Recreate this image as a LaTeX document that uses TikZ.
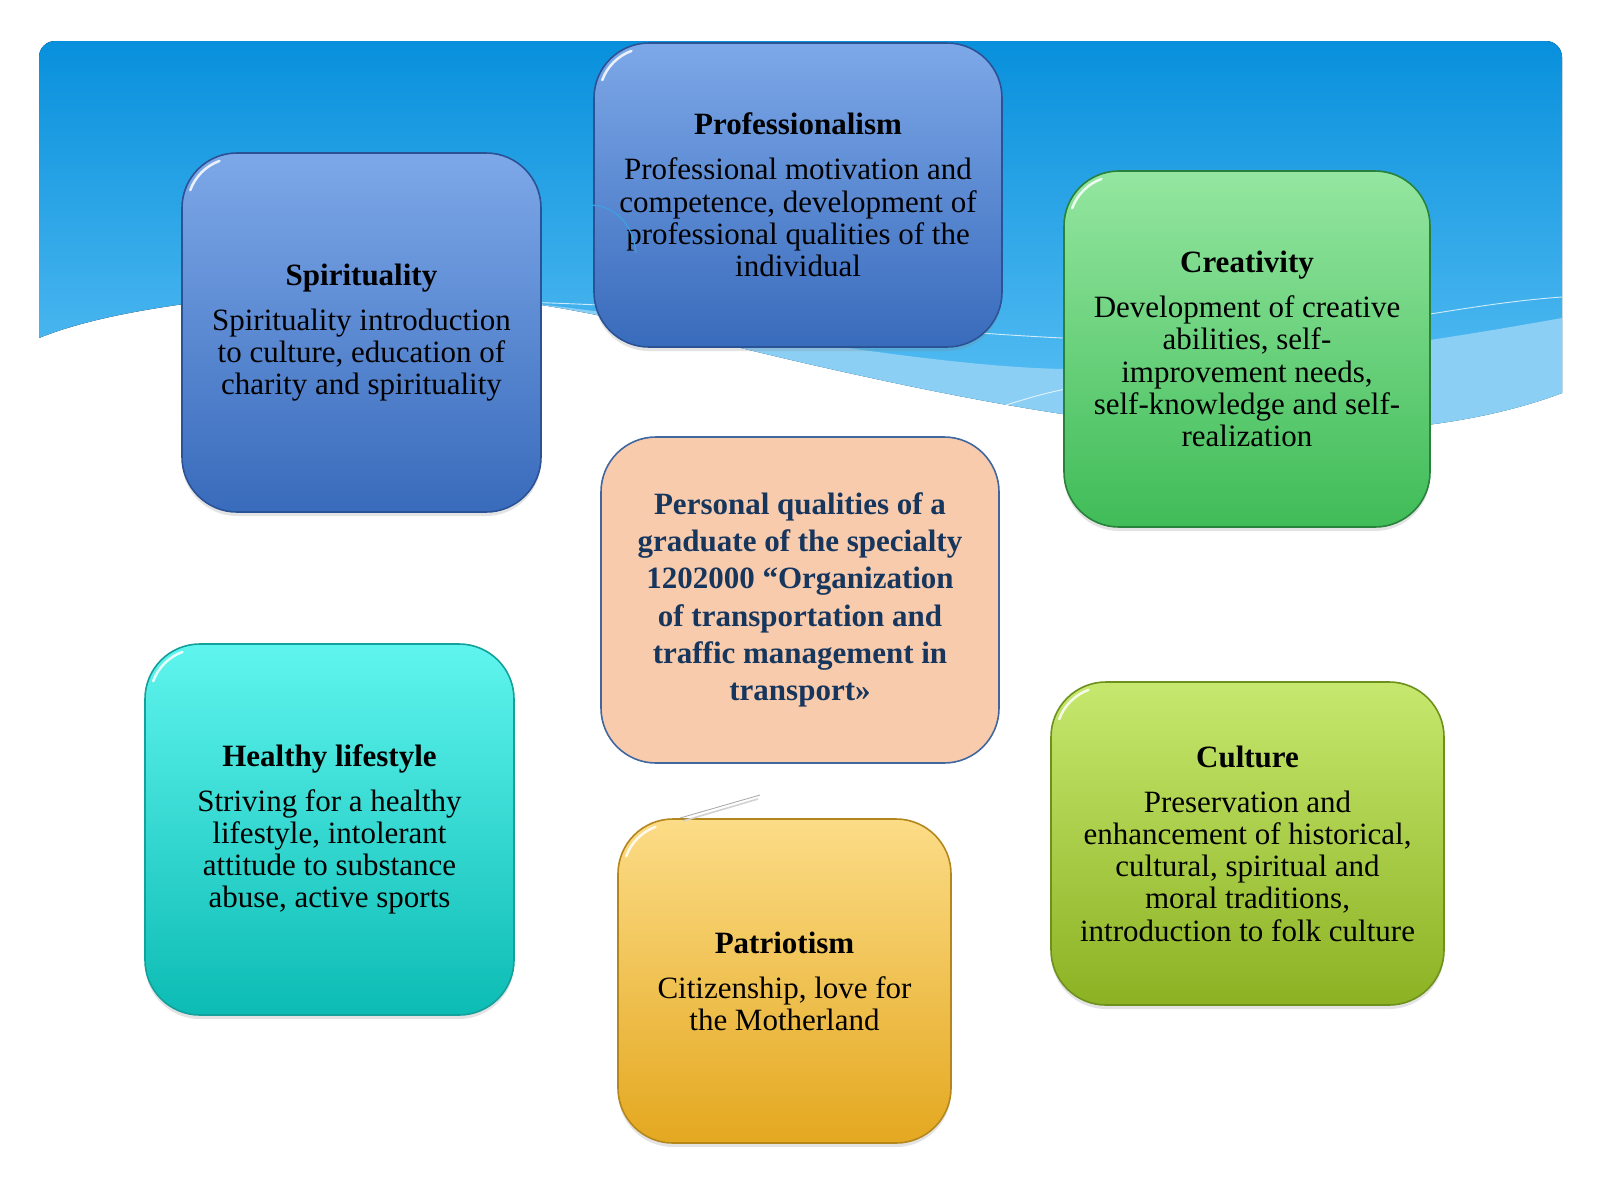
\documentclass[tikz,border=0pt]{standalone}
\usepackage{fontspec}
\setmainfont{Liberation Serif}
\usetikzlibrary{shadows}

% palette
\definecolor{bannerTop}{RGB}{8,144,220}
\definecolor{bannerBot}{RGB}{92,193,245}
\definecolor{waveLight}{RGB}{140,207,245}
\definecolor{blueTop}{RGB}{125,168,232}
\definecolor{blueBot}{RGB}{57,107,188}
\definecolor{blueLine}{RGB}{44,82,150}
\definecolor{greenTop}{RGB}{148,230,160}
\definecolor{greenBot}{RGB}{64,188,88}
\definecolor{greenLine}{RGB}{40,130,60}
\definecolor{tealTop}{RGB}{95,245,238}
\definecolor{tealBot}{RGB}{12,188,180}
\definecolor{tealLine}{RGB}{20,160,155}
\definecolor{limeTop}{RGB}{198,232,110}
\definecolor{limeBot}{RGB}{140,178,35}
\definecolor{limeLine}{RGB}{110,145,30}
\definecolor{goldTop}{RGB}{252,220,135}
\definecolor{goldBot}{RGB}{228,168,32}
\definecolor{goldLine}{RGB}{180,135,30}
\definecolor{peach}{RGB}{248,203,173}
\definecolor{peachLine}{RGB}{65,103,160}
\definecolor{navy}{RGB}{23,54,93}
\definecolor{strayBlue}{RGB}{60,160,225}

\tikzset{
  card/.style={draw, line width=1.6pt, rounded corners=55pt, align=center,
    inner sep=0pt, font=\fontsize{31}{32.2}\selectfont,
    drop shadow={shadow xshift=0pt, shadow yshift=-4pt, opacity=0.22}},
  bluecard/.style={card, draw=blueLine, top color=blueTop, bottom color=blueBot},
  greencard/.style={card, draw=greenLine, top color=greenTop, bottom color=greenBot},
  tealcard/.style={card, draw=tealLine, top color=tealTop, bottom color=tealBot},
  limecard/.style={card, draw=limeLine, top color=limeTop, bottom color=limeBot},
  goldcard/.style={card, draw=goldLine, top color=goldTop, bottom color=goldBot},
  hubcard/.style={draw=peachLine, line width=1.6pt, rounded corners=55pt, fill=peach,
    align=center, inner sep=0pt, text=navy,
    font=\bfseries\fontsize{31}{37.3}\selectfont},
  gloss/.style={white, line width=2.5pt, line cap=round, opacity=0.85},
  waveline/.style={white, line width=0.9pt, opacity=0.75},
}

% white highlight along the top-left corner of a card
\newcommand\glossarc[1]{\draw[gloss] ([shift={(9,38)}]#1.north west)
  arc[start angle=200, end angle=250, radius=49];}

\begin{document}
\begin{tikzpicture}[x=1pt, y=-1pt]
\useasboundingbox (0,0) rectangle (1600,1200);
\fill[white] (0,0) rectangle (1600,1200);

% blue banner with a wavy lower edge
\fill[top color=bannerTop, bottom color=bannerBot]
  (39,338) -- (39,57) arc[start angle=180, end angle=270, radius=16]
  -- (1546,41) arc[start angle=270, end angle=360, radius=16]
  -- (1562,393)
  .. controls (1490,420) and (1400,433) .. (1290,433)
  .. controls (1150,433) and (1000,408) .. (800,362)
  .. controls (650,327) and (560,300) .. (420,292)
  .. controls (280,288) and (120,305) .. (39,338) -- cycle;

% lighter band just above the wave
\fill[waveLight]
  (1562,318) .. controls (1450,338) and (1250,372) .. (1064,369)
  .. controls (900,366) and (650,310) .. (420,292)
  .. controls (560,300) and (650,327) .. (800,362)
  .. controls (1000,408) and (1150,433) .. (1290,433)
  .. controls (1400,433) and (1490,420) .. (1562,393) -- cycle;

% thin light lines across the banner
\draw[waveline] (520,302) .. controls (800,310) and (1000,345) .. (1200,340)
  .. controls (1350,335) and (1450,305) .. (1562,297);
\draw[waveline] (985,412) .. controls (1015,402) and (1040,394) .. (1066,389);

% cards
\node[bluecard, minimum width=359pt, minimum height=359pt] (spi) at (361.5,332.5)
  {\textbf{Spirituality}\\[12.8pt]Spirituality introduction\\to culture, education of\\charity and spirituality};
\node[bluecard, minimum width=408pt, minimum height=304pt] (pro) at (798,195)
  {\textbf{Professionalism}\\[12.8pt]Professional motivation and\\competence, development of\\professional qualities of the\\individual};
\node[greencard, minimum width=366pt, minimum height=356pt] (cre) at (1247,349)
  {\textbf{Creativity}\\[12.8pt]Development of creative\\abilities, self-\\improvement needs,\\self-knowledge and self-\\realization};
\node[hubcard, minimum width=398pt, minimum height=326pt] (hub) at (800,600)
  {Personal qualities of a\\graduate of the specialty\\1202000 “Organization\\of transportation and\\traffic management in\\transport»};
\node[tealcard, minimum width=369pt, minimum height=371pt] (hea) at (329.5,829.5)
  {\textbf{Healthy lifestyle}\\[12.8pt]Striving for a healthy\\lifestyle, intolerant\\attitude to substance\\abuse, active sports};
\node[goldcard, minimum width=333pt, minimum height=324pt] (pat) at (784.5,981)
  {\textbf{Patriotism}\\[12.8pt]Citizenship, love for\\the Motherland};
\node[limecard, minimum width=393pt, minimum height=323pt] (cul) at (1247.5,843.5)
  {\textbf{Culture}\\[12.8pt]Preservation and\\enhancement of historical,\\cultural, spiritual and\\moral traditions,\\introduction to folk culture};

\glossarc{spi}
\glossarc{pro}
\glossarc{cre}
\glossarc{hea}
\glossarc{pat}
\glossarc{cul}

% small stray strokes
\draw[strayBlue, line width=1.2pt] (592,205) .. controls (620,207) and (634,230) .. (636,253);
\draw[gray!70, line width=0.8pt] (680,818) -- (760,795);
\draw[gray!35, line width=1.6pt] (683,821) -- (758,799);
\end{tikzpicture}
\end{document}
